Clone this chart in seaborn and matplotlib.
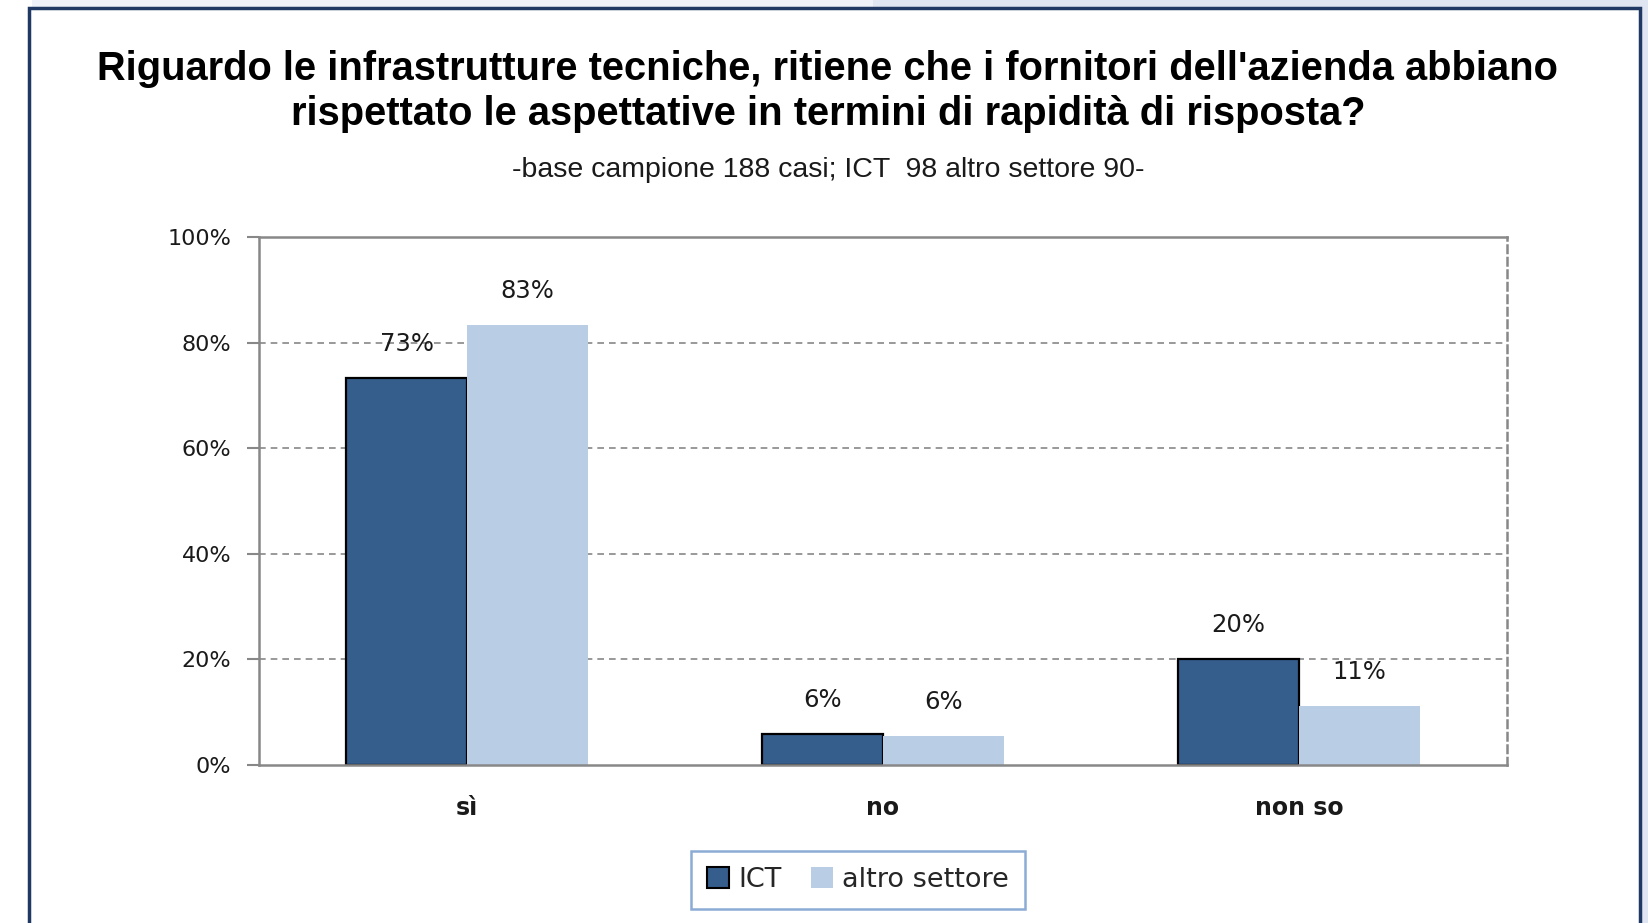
import matplotlib
matplotlib.use("Agg")
import matplotlib.pyplot as plt
import matplotlib.patches as mpatches
import pandas as pd
import seaborn as sns

# Data
categories = ["sì", "no", "non so"]
series = ["ICT", "altro settore"]
ict_values = [73.3, 5.8, 20.1]
altro_values = [83.3, 5.4, 11.2]
ict_labels = ["73%", "6%", "20%"]
altro_labels = ["83%", "6%", "11%"]
y_ticks = [0, 20, 40, 60, 80, 100]

title_1 = "Riguardo le infrastrutture tecniche, ritiene che i fornitori dell'azienda abbiano"
title_2 = "rispettato le aspettative in termini di rapidità di risposta?"
subtitle = "-base campione 188 casi; ICT  98 altro settore 90-"

df = pd.DataFrame({
    "categoria": categories * 2,
    "settore": [series[0]] * 3 + [series[1]] * 3,
    "valore": ict_values + altro_values,
})

dark = "#355e8d"
light = "#b9cde5"

sns.set_style("white")
plt.rcParams["font.family"] = ["DejaVu Sans"]

W, H = 1649, 923
fig = plt.figure(figsize=(W / 100, H / 100), dpi=100)
fig.patch.set_facecolor("white")

# background behind the frame
fig.patches.append(mpatches.Rectangle((32 / W, 0), (873 - 32) / W, 1, transform=fig.transFigure,
                                      facecolor="#eef1f8", edgecolor="none", zorder=-3))
fig.patches.append(mpatches.Rectangle((873 / W, 0), 1, 1, transform=fig.transFigure,
                                      facecolor="#dfe5f1", edgecolor="none", zorder=-3))
# white frame with navy border
fig.patches.append(mpatches.Rectangle((29 / W, -0.05), (1640 - 29) / W, 1.05 - 8 / H,
                                      transform=fig.transFigure, facecolor="white",
                                      edgecolor="#1f3864", linewidth=2.5, zorder=-2))

ax = fig.add_axes([259 / W, 1 - 765 / H, (1507 - 259) / W, (765 - 237) / H])
ax.set_facecolor("white")

sns.barplot(data=df, x="categoria", y="valore", hue="settore", order=categories,
            hue_order=series, palette=[dark, light], width=0.58, saturation=1,
            ax=ax, legend=False)

ict_bars, altro_bars = ax.containers
for b in ict_bars:
    b.set_edgecolor("black")
    b.set_linewidth(1.6)
for b in altro_bars:
    b.set_edgecolor("none")

ax.bar_label(ict_bars, labels=ict_labels, padding=16, fontsize=17.5, color="#1a1a1a")
ax.bar_label(altro_bars, labels=altro_labels, padding=16, fontsize=17.5, color="#1a1a1a")

ax.set_ylim(0, 100)
ax.set_xlim(-0.5, 2.5)
ax.set_yticks(y_ticks)
ax.set_yticklabels([f"{t}%" for t in y_ticks], fontsize=16, color="#1a1a1a")
ax.set_xticks(range(len(categories)))
ax.set_xticklabels(categories, fontsize=17, fontweight="bold", color="#1a1a1a")
ax.set_xticks([-0.5, 0.5, 1.5, 2.5], minor=True)
ax.tick_params(axis="x", which="major", length=0, pad=22)
ax.tick_params(axis="x", which="minor", length=8, width=1.5, color="#888888", direction="out")
ax.tick_params(axis="y", length=9, width=1.5, color="#888888", direction="out", pad=11, left=True)
ax.set_xlabel("")
ax.set_ylabel("")

for y in [20, 40, 60, 80]:
    ax.axhline(y, color="#888888", linestyle=(0, (4, 3)), linewidth=1.2, zorder=0)
ax.set_axisbelow(True)

for side in ["left", "bottom", "top"]:
    ax.spines[side].set_color("#888888")
    ax.spines[side].set_linewidth(1.8)
ax.spines["right"].set_color("#888888")
ax.spines["right"].set_linestyle((0, (3, 2)))
ax.spines["right"].set_linewidth(1.8)

# titles
title_font = ["Liberation Sans", "DejaVu Sans"]
fig.text(827 / W, 1 - 69 / H, title_1, ha="center", va="center", fontsize=28.7,
         fontweight="bold", family=title_font, color="black")
fig.text(828 / W, 1 - 114 / H, title_2, ha="center", va="center", fontsize=28.7,
         fontweight="bold", family=title_font, color="black")
fig.text(828 / W, 1 - 170 / H, subtitle, ha="center", va="center", fontsize=20.5,
         family=title_font, color="#1a1a1a")

handles = [mpatches.Patch(facecolor=dark, edgecolor="black", linewidth=1.5, label=series[0]),
           mpatches.Patch(facecolor=light, edgecolor="none", label=series[1])]
leg = fig.legend(handles=handles, loc="center", bbox_to_anchor=(858 / W, 1 - 880 / H), ncol=2,
                 fontsize=19.5, frameon=True, fancybox=False, handlelength=0.8, handleheight=0.8,
                 handletextpad=0.35, columnspacing=1.1, borderpad=0.6)
leg.get_frame().set_edgecolor("#6f97cc")
leg.get_frame().set_linewidth(1.8)

fig.savefig("out.png", dpi=100, facecolor=fig.get_facecolor())
